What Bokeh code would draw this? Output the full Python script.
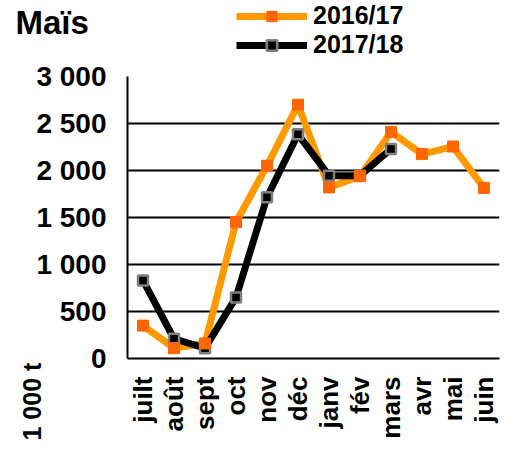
import math
from bokeh.plotting import figure
from bokeh.models import Range1d, FixedTicker, Legend, LegendItem, FactorRange, Title, Label
from bokeh.embed import file_html
from bokeh.resources import INLINE

months = ["juilt", "août", "sept", "oct", "nov", "déc", "janv", "fév", "mars", "avr", "mai", "juin"]
s2016 = [350, 110, 160, 1450, 2050, 2700, 1820, 1940, 2410, 2175, 2255, 1815]
months_2017 = ["juilt", "août", "sept", "oct", "nov", "déc", "janv", "fév", "mars"]
s2017 = [830, 210, 110, 650, 1715, 2385, 1945, 1945, 2230]
y_ticks = [0, 500, 1000, 1500, 2000, 2500, 3000]
y_tick_labels = ["0", "500", "1 000", "1 500", "2 000", "2 500", "3 000"]
series_names = ["2016/17", "2017/18"]

FONT = "Liberation Sans"
ORANGE_LINE, ORANGE_MARK = "#FF9900", "#FF6600"
HEADER_H = 60


def add_series(fig):
    l1 = fig.line(months, s2016, line_color=ORANGE_LINE, line_width=7)
    l2 = fig.line(months_2017, s2017, line_color="black", line_width=7)
    m2 = fig.scatter(months_2017, s2017, marker="square", size=10, fill_color="black",
                     line_color="#808080", line_width=2.5)
    m1 = fig.scatter(months, s2016, marker="square", size=11, fill_color=ORANGE_MARK,
                     line_color=ORANGE_MARK)
    return (l1, m1), (l2, m2)


# ---- header: title + legend (series out of view, only their legend glyphs show) ----
h = figure(width=500, height=HEADER_H, x_range=FactorRange(*months), y_range=Range1d(-2, -1),
           output_backend="svg", toolbar_location=None,
           x_axis_location=None, y_axis_location=None,
           min_border_left=0, min_border_right=0, min_border_top=0, min_border_bottom=0)
h.outline_line_color = None
h.xgrid.grid_line_color = None
h.ygrid.grid_line_color = None
h.add_layout(Label(x=15, y=HEADER_H - 22, x_units="screen", y_units="screen", text="Maïs",
                   text_font=FONT, text_font_style="bold", text_font_size="33px",
                   text_baseline="middle", text_color="black"))
r16, r17 = add_series(h)
legend = Legend(items=[LegendItem(label=series_names[0], renderers=list(r16)),
                       LegendItem(label=series_names[1], renderers=list(r17))],
                location=(236, 1), padding=0, margin=0, spacing=0,
                border_line_color=None, background_fill_alpha=0,
                glyph_width=71, glyph_height=26, label_standoff=6,
                label_text_font=FONT, label_text_font_style="bold",
                label_text_font_size="25px", label_text_color="black")
h.add_layout(legend, "center")

# ---- main chart ----
p = figure(width=500, height=442 - HEADER_H, x_range=FactorRange(*months), y_range=Range1d(0, 3000),
           output_backend="svg", toolbar_location=None,
           min_border_left=127, min_border_right=1, min_border_top=76 - HEADER_H,
           min_border_bottom=84)
p.outline_line_color = None
p.xgrid.grid_line_color = None
p.ygrid.grid_line_color = "black"
p.ygrid.grid_line_width = 2
p.yaxis.ticker = FixedTicker(ticks=y_ticks)
p.yaxis.major_label_overrides = {t: l for t, l in zip(y_ticks, y_tick_labels)}
for ax in (p.xaxis[0], p.yaxis[0]):
    ax.axis_line_color = "black"
    ax.axis_line_width = 2
    ax.major_tick_line_color = None
    ax.minor_tick_line_color = None
    ax.major_label_text_font = FONT
    ax.major_label_text_font_style = "bold"
    ax.major_label_text_color = "black"
p.yaxis.major_label_text_font_size = "28px"
p.yaxis.major_label_standoff = 15
p.xaxis.major_label_text_font_size = "26px"
p.xaxis.major_label_orientation = math.pi / 2
p.xaxis.major_label_standoff = 12

add_series(p)

p.add_layout(Title(text="1 000 t", align="left", offset=-82, standoff=-24, text_font=FONT,
                   text_font_style="bold", text_font_size="25px", text_color="black"), "left")

open("out.html", "w").write(file_html([h, p], INLINE))
